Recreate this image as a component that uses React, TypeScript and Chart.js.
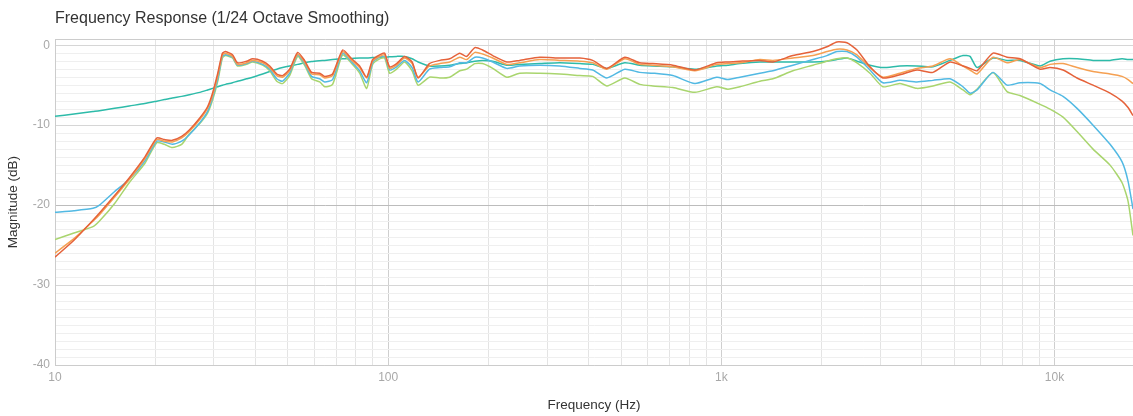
import { useEffect, useRef } from 'react';
import { Chart, registerables } from 'chart.js';

Chart.register(...registerables);

const TITLE = 'Frequency Response (1/24 Octave Smoothing)';
const X_TITLE = 'Frequency (Hz)';
const Y_TITLE = 'Magnitude (dB)';
const FONT = '"Liberation Sans", Arial, Helvetica, sans-serif';

// Frequency grid shared by every measured curve (Hz)
const frequencyHz = [
  10, 11.4, 13, 13.6, 15.1, 16.7, 18.6, 20.2, 21.3, 22.5, 24, 25.3, 27.2, 28.7, 29.7, 30.8,
  31.8, 32.5, 34.1, 35.3, 37.6, 39.2, 42, 44.1, 46.3, 48.2, 50.6, 53.5, 56.1, 58.9, 62.3,
  64.5, 68.1, 73, 77.7, 82.1, 86.2, 89.8, 94.3, 97.6, 101, 106, 112, 118, 123, 133, 143,
  153, 164, 172, 182, 192, 206, 227, 248, 285, 327, 376, 411, 453, 513, 569, 623, 715, 833,
  969, 1046, 1137, 1305, 1428, 1640, 1883, 2074, 2222, 2382, 2553, 2793, 3055, 3436, 3865,
  4317, 4857, 5313, 5576, 5853, 6537, 7202, 7878, 9048, 9694, 10605, 11684, 13050, 14679,
  15950, 16620, 17200,
];

// Magnitude in dB for each curve, one value per frequency above
const redDb = [
  -26.5, -24.4, -21.9, -21.0, -18.8, -16.6, -14.0, -11.6, -11.8, -11.9, -11.4, -10.6, -9.1, -7.7, -6.0, -3.5,
  -1.0, -0.8, -1.2, -2.2, -2.0, -1.7, -2.0, -2.6, -3.6, -3.8, -3.0, -0.9, -1.9, -3.4, -3.5,
  -3.9, -3.6, -0.6, -1.7, -2.6, -4.0, -1.8, -1.2, -1.0, -2.7, -2.3, -1.4, -2.1, -4.1, -2.3, -1.9,
  -1.7, -1.0, -1.4, -0.3, -0.6, -1.3, -2.1, -1.9, -1.5, -1.6, -1.6, -1.9, -2.9, -1.5, -2.2, -2.3, -2.5, -3.1,
  -2.2, -2.1, -2.0, -1.9, -2.1, -1.3, -0.8, -0.2, 0.4, 0.3, -0.6, -2.7, -4.1, -3.7, -3.1,
  -3.4, -2.1, -2.6, -2.9, -3.2, -1.0, -1.5, -1.7, -3.0, -2.8, -3.1, -4.1, -5.0, -6.0,
  -7.0, -7.8, -8.8,
];

const orangeDb = [
  -26.0, -24.2, -22.0, -21.2, -19.0, -16.8, -14.2, -11.8, -12.0, -12.1, -11.6, -10.8, -9.3, -7.9, -6.3, -3.8,
  -1.2, -1.0, -1.4, -2.4, -2.2, -1.9, -2.2, -2.8, -3.8, -4.0, -3.2, -1.1, -2.1, -3.6, -3.7,
  -4.1, -3.8, -0.8, -1.9, -2.8, -4.1, -2.0, -1.4, -1.2, -2.9, -2.5, -1.6, -2.3, -4.0, -2.6, -2.3,
  -2.1, -1.5, -1.8, -0.9, -1.1, -1.6, -2.4, -2.2, -1.8, -1.9, -2.0, -2.2, -3.0, -1.7, -2.4, -2.5, -2.7, -3.2,
  -2.4, -2.3, -2.2, -1.8, -1.9, -1.6, -1.3, -0.8, -0.5, -0.6, -1.2, -2.8, -4.0, -3.5, -2.9,
  -2.6, -1.7, -2.6, -3.1, -3.6, -1.5, -2.2, -1.8, -2.8, -2.4, -2.3, -2.8, -3.3, -3.6,
  -3.9, -4.3, -4.8,
];

const blueDb = [
  -20.9, -20.7, -20.4, -20.0, -18.3, -16.8, -14.5, -12.0, -12.1, -12.4, -12.0, -11.2, -9.7, -8.3, -6.6, -4.2,
  -1.4, -1.2, -1.5, -2.5, -2.3, -2.0, -2.4, -3.0, -4.2, -4.5, -3.5, -1.2, -2.3, -3.9, -4.2,
  -4.6, -4.3, -1.0, -2.1, -3.2, -4.7, -2.2, -1.5, -1.4, -3.1, -2.7, -1.9, -2.8, -4.6, -3.0, -2.8,
  -2.7, -2.2, -2.2, -1.5, -1.6, -2.1, -2.9, -2.6, -2.5, -2.6, -2.9, -3.1, -4.1, -3.0, -3.4, -3.5, -3.8, -4.8,
  -4.0, -4.3, -4.0, -3.5, -3.2, -2.5, -1.8, -1.3, -0.8, -0.8, -1.5, -3.1, -4.7, -4.4, -4.6,
  -4.4, -4.2, -5.2, -6.0, -5.6, -3.4, -5.0, -4.7, -4.8, -5.6, -6.4, -7.9, -10.0, -12.4,
  -14.6, -17.0, -20.5,
];

const greenDb = [
  -24.3, -23.5, -22.7, -22.0, -19.8, -17.2, -14.8, -12.2, -12.4, -12.8, -12.4, -11.1, -9.8, -8.5, -6.9, -4.5,
  -1.6, -1.3, -1.6, -2.6, -2.4, -2.1, -2.5, -3.2, -4.5, -4.8, -3.8, -1.4, -2.5, -4.2, -4.6,
  -5.2, -4.9, -1.2, -2.3, -3.5, -5.4, -2.4, -1.7, -1.6, -3.5, -3.0, -2.1, -3.2, -5.0, -4.0, -4.1,
  -4.0, -3.2, -3.0, -2.3, -2.3, -2.9, -4.0, -3.5, -3.5, -3.6, -3.8, -3.9, -5.1, -4.1, -4.9, -5.1, -5.3, -5.9,
  -5.2, -5.5, -5.2, -4.5, -4.2, -3.2, -2.5, -2.0, -1.7, -1.6, -2.2, -3.5, -5.2, -4.8, -5.4,
  -5.1, -4.6, -5.6, -6.2, -5.5, -3.4, -5.8, -6.3, -7.4, -8.0, -9.0, -10.8, -13.0, -15.0,
  -17.2, -19.5, -23.8,
];

const tealDb = [
  -8.9, -8.6, -8.3, -8.2, -7.9, -7.6, -7.3, -7.0, -6.8, -6.6, -6.4, -6.2, -5.9, -5.6, -5.4, -5.2,
  -5.0, -4.9, -4.7, -4.5, -4.2, -4.0, -3.6, -3.3, -3.0, -2.8, -2.6, -2.4, -2.2, -2.05, -1.95,
  -1.9, -1.8, -1.7, -1.65, -1.6, -1.6, -1.55, -1.5, -1.5, -1.45, -1.4, -1.4, -1.7, -2.1, -2.6, -2.6,
  -2.5, -2.3, -2.2, -2.0, -1.9, -2.0, -2.5, -2.4, -2.3, -2.2, -2.3, -2.4, -2.9, -2.2, -2.5, -2.6, -2.7, -3.0,
  -2.6, -2.5, -2.3, -2.1, -2.1, -2.1, -2.1, -2.0, -1.8, -1.6, -2.0, -2.5, -2.8, -2.6, -2.6,
  -2.7, -1.9, -1.3, -1.4, -2.8, -1.6, -1.9, -1.9, -2.6, -2.0, -1.7, -1.7, -1.9, -1.9,
  -1.7, -1.8, -1.8,
];

const seriesLabels = ['Curve A', 'Curve B', 'Curve C', 'Curve D', 'Curve E'];
const seriesValues = [redDb, orangeDb, blueDb, greenDb, tealDb];
const seriesColors = ['#e5623a', '#f5a052', '#52b9e3', '#a9d56e', '#2dbba9'];

// Axis ranges and labelled ticks
const X_MIN = 10;
const X_MAX = 17200;
const Y_MIN = -40;
const Y_MAX = 0.75;
const xTickValues = [10, 100, 1000, 10000];
const xTickLabels = ['10', '100', '1k', '10k'];
const yTickValues = [-40, -30, -20, -10, 0];
const yTickLabels = ['-40', '-30', '-20', '-10', '0'];

const isDecade = (v: number) => Math.abs(Math.log10(v) - Math.round(Math.log10(v))) < 1e-6;

export default function App() {
  const canvasRef = useRef<HTMLCanvasElement | null>(null);

  useEffect(() => {
    const canvas = canvasRef.current;
    if (!canvas) return;

    const datasets = seriesValues.map((vals, i) => ({
      label: seriesLabels[i],
      data: frequencyHz.map((f, j) => ({ x: f, y: vals[j] })),
      borderColor: seriesColors[i],
      backgroundColor: seriesColors[i],
      borderWidth: 1.5,
      pointRadius: 0,
      tension: 0.2,
      fill: false,
    }));

    const chart = new Chart(canvas, {
      type: 'line',
      data: { datasets },
      options: {
        responsive: false,
        animation: false,
        events: [],
        layout: { padding: 0 },
        plugins: {
          legend: { display: false },
          tooltip: { enabled: false },
          title: {
            display: true,
            text: TITLE,
            align: 'start',
            fullSize: false,
            color: '#333333',
            font: { family: FONT, size: 16, weight: 'normal' },
            padding: { top: 9, bottom: 11 },
          },
        },
        scales: {
          x: {
            type: 'logarithmic',
            min: X_MIN,
            max: X_MAX,
            afterFit: (scale: any) => {
              scale.height = 51;
            },
            afterBuildTicks: (scale: any) => {
              const ticks: { value: number }[] = [];
              for (let decade = 10; decade <= 10000; decade *= 10) {
                for (let m = 1; m <= 9; m++) {
                  const v = decade * m;
                  if (v <= X_MAX) ticks.push({ value: v });
                }
              }
              scale.ticks = ticks;
            },
            ticks: {
              autoSkip: false,
              maxRotation: 0,
              padding: 5,
              color: '#a8a8a8',
              font: { family: FONT, size: 12 },
              callback: (value: any) => {
                const idx = xTickValues.findIndex((t) => Math.abs(t - Number(value)) < 1e-6);
                return idx >= 0 ? xTickLabels[idx] : '';
              },
            },
            grid: {
              drawTicks: false,
              color: (ctx: any) => (ctx.tick && isDecade(ctx.tick.value) ? '#cfcfcf' : '#e4e4e4'),
            },
            border: { color: '#cccccc' },
            title: {
              display: true,
              text: X_TITLE,
              color: '#333333',
              font: { family: FONT, size: 13.5 },
              padding: { top: 0, bottom: 3 },
            },
          },
          y: {
            type: 'linear',
            min: Y_MIN,
            max: Y_MAX,
            afterFit: (scale: any) => {
              scale.width = 55;
            },
            afterBuildTicks: (scale: any) => {
              const ticks: { value: number }[] = [];
              for (let v = Y_MIN; v <= 0; v += 1) ticks.push({ value: v });
              ticks.push({ value: Y_MAX });
              scale.ticks = ticks;
            },
            ticks: {
              autoSkip: false,
              padding: 5,
              color: '#a8a8a8',
              font: { family: FONT, size: 12 },
              callback: (value: any) => {
                const idx = yTickValues.findIndex((t) => Math.abs(t - Number(value)) < 1e-6);
                return idx >= 0 ? yTickLabels[idx] : '';
              },
            },
            grid: {
              drawTicks: false,
              color: (ctx: any) => {
                const v = ctx.tick ? ctx.tick.value : 0;
                if (v === Y_MAX) return '#cccccc';
                if (v === -20) return '#bcbcbc';
                if (v % 10 === 0) return '#d6d6d6';
                return '#efefef';
              },
            },
            border: { color: '#cccccc' },
            title: {
              display: true,
              text: Y_TITLE,
              color: '#333333',
              font: { family: FONT, size: 13.5 },
              padding: { top: 5, bottom: 0 },
            },
          },
        },
      } as any,
    });

    return () => chart.destroy();
  }, []);

  return (
    <div style={{ position: 'fixed', left: 0, top: 0, width: 1133, height: 416, background: '#ffffff' }}>
      <canvas ref={canvasRef} width={1133} height={416} style={{ display: 'block' }} />
    </div>
  );
}
